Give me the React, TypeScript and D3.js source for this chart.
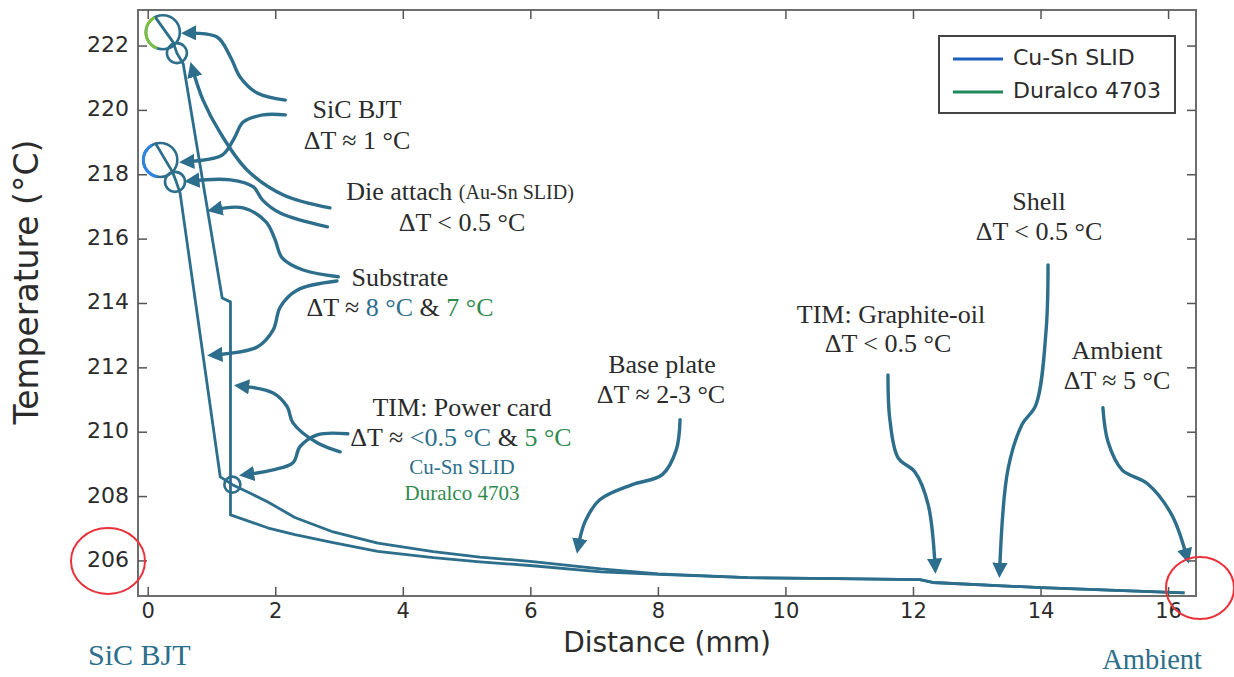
import React from 'react';
import * as d3 from 'd3';

// Cu-Sn SLID profile (mm, °C)
const cuSnDist = [0.11, 0.38, 0.44, 0.5, 1.13, 1.32, 1.6, 1.87, 2.3, 2.9, 3.6, 4.47, 5.2, 6.03, 7.1, 8.0, 9.4, 10.8, 12.1, 12.3, 14.0, 16.25];
const cuSnTemp = [218.99, 218.09, 217.78, 217.43, 208.61, 208.37, 208.1, 207.84, 207.35, 206.9, 206.55, 206.29, 206.12, 205.98, 205.75, 205.6, 205.48, 205.45, 205.42, 205.33, 205.17, 205.01];

// Duralco 4703 profile (mm, °C)
const duralcoDist = [0.11, 0.39, 0.45, 0.55, 1.16, 1.29, 1.29, 1.87, 2.3, 2.9, 3.6, 4.47, 5.2, 6.03, 7.1, 8.0, 9.4, 10.8, 12.1, 12.3, 14.0, 16.25];
const duralcoTemp = [222.9, 222.12, 221.78, 221.44, 214.17, 214.05, 207.43, 207.03, 206.82, 206.57, 206.3, 206.1, 205.97, 205.85, 205.66, 205.58, 205.48, 205.45, 205.42, 205.33, 205.17, 205.01];

const distTicks = [0, 2, 4, 6, 8, 10, 12, 14, 16];
const tempTicks = [206, 208, 210, 212, 214, 216, 218, 220, 222];

const legendLabels = ['Cu-Sn SLID', 'Duralco 4703'];
const legendColors = ['#1f5fbf', '#1e8a5c'];

// annotation arrows, in data units [mm, °C]
const arrows: [number, number][][] = [
  [[2.15, 220.32], [1.71, 220.54], [1.44, 221.04], [1.29, 221.66], [1.08, 222.28], [0.61, 222.4]],
  [[2.15, 219.86], [1.8, 219.86], [1.49, 219.64], [1.35, 219.14], [1.16, 218.61], [0.58, 218.4]],
  [[2.85, 216.97], [2.12, 217.37], [1.55, 218.15], [1.13, 219.3], [0.86, 220.32], [0.69, 221.32]],
  [[2.81, 216.38], [2.07, 216.81], [1.79, 217.22], [1.65, 217.62], [1.29, 217.84], [0.66, 217.81]],
  [[2.98, 214.83], [2.43, 215.04], [2.1, 215.42], [1.99, 215.98], [1.85, 216.53], [1.49, 216.97], [1.02, 216.91]],
  [[2.96, 214.7], [2.34, 214.42], [2.07, 213.89], [1.96, 213.18], [1.71, 212.65], [1.02, 212.4]],
  [[3.01, 209.39], [2.65, 209.67], [2.27, 210.29], [2.18, 210.79], [1.96, 211.22], [1.44, 211.44]],
  [[3.13, 209.95], [2.65, 209.92], [2.38, 209.55], [2.27, 209.05], [1.96, 208.83], [1.52, 208.68]],
  [[8.34, 210.39], [8.28, 209.45], [8.06, 208.68], [7.59, 208.37], [7.08, 207.9], [6.85, 207.22], [6.74, 206.41]],
  [[11.6, 211.78], [11.63, 210.39], [11.76, 209.2], [12.02, 208.77], [12.23, 207.75], [12.34, 205.79]],
  [[14.11, 215.2], [14.08, 213.18], [13.92, 210.85], [13.7, 210.23], [13.48, 208.83], [13.35, 205.66]],
  [[14.97, 210.76], [15.05, 209.7], [15.27, 208.83], [15.67, 208.4], [16.05, 207.43], [16.29, 206.1]],
];

// circled points on the profiles [mm, °C, radius px]
const rings: [number, number, number][] = [
  [0.23, 222.43, 17], [0.45, 221.78, 10], [0.19, 218.46, 17], [0.42, 217.78, 10], [1.32, 208.37, 8],
];

const W = 1234;
const H = 677;
const teal = '#2c6e8b';
const greenTxt = '#2f8a4e';
const grayTxt = '#2b2b2b';
const serif = '"Liberation Serif", "DejaVu Serif", serif';
const sans = '"DejaVu Sans", sans-serif';

export default function App() {
  const x = d3.scaleLinear().domain([-0.16, 16.43]).range([138, 1196]);
  const y = d3.scaleLinear().domain([204.91, 223.12]).range([596, 10]);
  const [x0, x1] = x.range();
  const [y0, y1] = y.range();

  const profile = d3.line<[number, number]>().x(d => x(d[0])).y(d => y(d[1]));
  const cuSn = cuSnDist.map((d, i) => [d, cuSnTemp[i]] as [number, number]);
  const dura = duralcoDist.map((d, i) => [d, duralcoTemp[i]] as [number, number]);
  const arrowLine = d3.line<[number, number]>().x(d => x(d[0])).y(d => y(d[1])).curve(d3.curveCatmullRom.alpha(0.5));

  const arcPath = (a0: number, a1: number, r: number) =>
    d3.arc()({ innerRadius: r, outerRadius: r, startAngle: a0, endAngle: a1 }) as string;

  const label = (tx: number, ty: number, parts: { t: string; c?: string; s?: number }[], size = 26) => (
    <text x={tx} y={ty} textAnchor="middle" dominantBaseline="middle" fontFamily={serif} fontSize={size} fill={grayTxt}>
      {parts.map((p, i) => (
        <tspan key={i} fill={p.c || grayTxt} fontSize={p.s || size}>{p.t}</tspan>
      ))}
    </text>
  );

  return (
    <div style={{ position: 'absolute', left: 0, top: 0 }}>
      <svg width={W} height={H} style={{ display: 'block', background: '#fff' }}>
        <defs>
          <marker id="ah" viewBox="0 0 10 10" refX="6" refY="5" markerWidth="4.5" markerHeight="4.5" orient="auto" markerUnits="strokeWidth">
            <path d="M0,0 L10,5 L0,10 z" fill={teal} />
          </marker>
        </defs>

        {/* frame and ticks */}
        <rect x={x0} y={y1} width={x1 - x0} height={y0 - y1} fill="none" stroke="#6e6e6e" strokeWidth={2} />
        {distTicks.map(t => (
          <g key={'xt' + t}>
            <line x1={x(t)} x2={x(t)} y1={y0} y2={y0 - 9} stroke="#555" strokeWidth={1.5} />
            <line x1={x(t)} x2={x(t)} y1={y1} y2={y1 + 9} stroke="#555" strokeWidth={1.5} />
            <text x={x(t)} y={y0 + 16} textAnchor="middle" dominantBaseline="middle" fontFamily={sans} fontSize={21} fill={grayTxt}>{t}</text>
          </g>
        ))}
        {tempTicks.map(t => (
          <g key={'yt' + t}>
            <line x1={x0} x2={x0 + 9} y1={y(t)} y2={y(t)} stroke="#555" strokeWidth={1.5} />
            <line x1={x1} x2={x1 - 9} y1={y(t)} y2={y(t)} stroke="#555" strokeWidth={1.5} />
            <text x={x0 - 9} y={y(t)} textAnchor="end" dominantBaseline="middle" fontFamily={sans} fontSize={22} fill={grayTxt}>{t}</text>
          </g>
        ))}

        <text x={667} y={644} textAnchor="middle" dominantBaseline="middle" fontFamily={sans} fontSize={28} fill={grayTxt}>Distance (mm)</text>
        <text transform={`translate(28,282) rotate(-90)`} textAnchor="middle" dominantBaseline="middle" fontFamily={sans} fontSize={33} fill={grayTxt}>Temperature (°C)</text>

        {/* profiles */}
        <path d={profile(dura) as string} fill="none" stroke={teal} strokeWidth={2.8} strokeLinejoin="round" />
        <path d={profile(cuSn) as string} fill="none" stroke={teal} strokeWidth={2.8} strokeLinejoin="round" />

        {rings.map((r, i) => (
          <circle key={'r' + i} cx={x(r[0])} cy={y(r[1])} r={r[2]} fill="none" stroke={teal} strokeWidth={2.6} />
        ))}
        <path d={arcPath(3.49, 5.78, 17)} transform={`translate(${x(rings[0][0])},${y(rings[0][1])})`} fill="none" stroke="#7dbf3f" strokeWidth={3} />
        <path d={arcPath(3.32, 5.78, 17)} transform={`translate(${x(rings[2][0])},${y(rings[2][1])})`} fill="none" stroke="#2f84e0" strokeWidth={3} />

        {/* annotation arrows */}
        {arrows.map((a, i) => (
          <path key={'a' + i} d={arrowLine(a) as string} fill="none" stroke={teal} strokeWidth={3.4} strokeLinecap="round" markerEnd="url(#ah)" />
        ))}

        {/* annotation text */}
        {label(357, 112, [{ t: 'SiC BJT' }])}
        {label(357, 143, [{ t: 'ΔT ≈ 1 °C' }])}
        {label(460, 194, [{ t: 'Die attach  ' }, { t: '(Au-Sn SLID)', s: 20 }])}
        {label(462, 225, [{ t: 'ΔT < 0.5 °C' }])}
        {label(400, 280, [{ t: 'Substrate' }])}
        {label(400, 310, [{ t: 'ΔT ≈ ' }, { t: '8 °C', c: teal }, { t: ' & ' }, { t: '7 °C', c: greenTxt }])}
        {label(462, 410, [{ t: 'TIM: Power card' }])}
        {label(461, 440, [{ t: 'ΔT ≈ ' }, { t: '<0.5 °C', c: teal }, { t: ' & ' }, { t: '5 °C', c: greenTxt }])}
        {label(462, 469, [{ t: 'Cu-Sn SLID', c: teal }], 21)}
        {label(462, 495, [{ t: 'Duralco 4703', c: greenTxt }], 21)}
        {label(662, 367, [{ t: 'Base plate' }])}
        {label(661, 397, [{ t: 'ΔT ≈ 2-3 °C' }])}
        {label(891, 317, [{ t: 'TIM: Graphite-oil' }])}
        {label(888, 346, [{ t: 'ΔT < 0.5 °C' }])}
        {label(1039, 204, [{ t: 'Shell' }])}
        {label(1039, 234, [{ t: 'ΔT < 0.5 °C' }])}
        {label(1117, 353, [{ t: 'Ambient' }])}
        {label(1117, 383, [{ t: 'ΔT ≈ 5 °C' }])}

        <text x={88} y={658} dominantBaseline="middle" fontFamily={serif} fontSize={30} fill={teal}>SiC BJT</text>
        <text x={1202} y={662} textAnchor="end" dominantBaseline="middle" fontFamily={serif} fontSize={28.5} fill={teal}>Ambient</text>

        {/* red marks */}
        <ellipse cx={108} cy={561} rx={37} ry={33} fill="none" stroke="#e8333b" strokeWidth={2} />
        <ellipse cx={1200} cy={588} rx={34} ry={31} fill="none" stroke="#e8333b" strokeWidth={2} />

        {/* legend */}
        <rect x={939} y={36} width={236} height={77} fill="#fff" stroke="#444" strokeWidth={2} />
        {legendLabels.map((l, i) => (
          <g key={l}>
            <line x1={953} x2={1003} y1={59 + i * 33} y2={59 + i * 33} stroke={legendColors[i]} strokeWidth={3} />
            <text x={1013} y={59 + i * 33} dominantBaseline="middle" fontFamily={sans} fontSize={22} fill={grayTxt}>{l}</text>
          </g>
        ))}
      </svg>
    </div>
  );
}
